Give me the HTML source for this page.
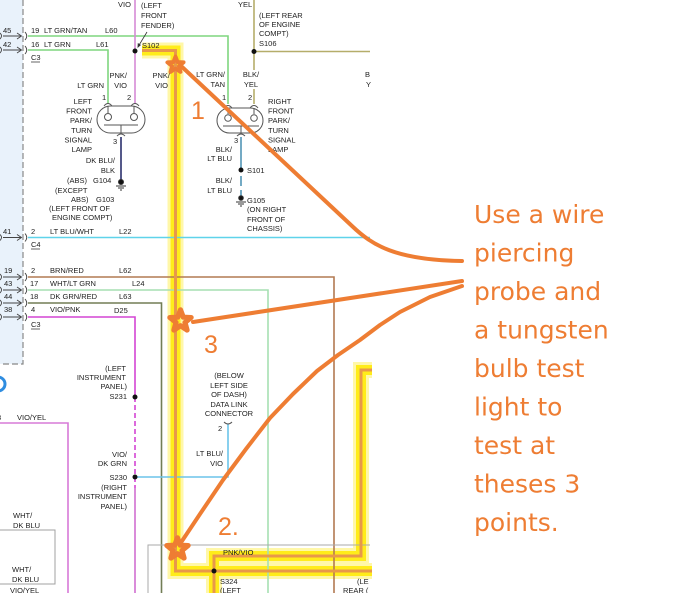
<!DOCTYPE html>
<html><head><meta charset="utf-8">
<style>
html,body{margin:0;padding:0;background:#fff;}
svg{display:block;}
.t{font-family:"Liberation Sans",Arial,sans-serif;font-size:7.5px;fill:#222;}
.e{text-anchor:end;}
.m{text-anchor:middle;}
.a{font-family:"DejaVu Sans",sans-serif;font-size:25px;fill:#ee7d33;}
.n{font-family:"Liberation Sans",sans-serif;font-size:25px;fill:#ee7d33;}
</style></head><body>
<svg width="692" height="593" viewBox="0 0 692 593" xmlns="http://www.w3.org/2000/svg">
<rect width="692" height="593" fill="#fff"/>
<!-- left panel -->
<rect x="0" y="0" width="23" height="364" fill="#e9f2fb"/>
<path d="M23,0 V364 H0" fill="none" stroke="#888" stroke-width="1.2" stroke-dasharray="6,3"/>
<circle cx="-2" cy="384" r="7" fill="none" stroke="#2f8de0" stroke-width="3"/>

<!-- highlight glow -->
<g fill="none" stroke-linejoin="miter">
<path d="M142,50.5 H175.5 V571 H372" stroke="#fff7a8" stroke-width="16"/>
<path d="M214,593 V556 H361 V370 H372" stroke="#fff7a8" stroke-width="16"/>
<path d="M142,50.5 H175.5 V571 H372" stroke="#ffec1a" stroke-width="10"/>
<path d="M214,593 V556 H361 V370 H372" stroke="#ffec1a" stroke-width="10"/>
</g>

<!-- wires -->
<g fill="none" stroke-width="1.6">
<path d="M28,36 H228 V104" stroke="#7fd67f"/>
<path d="M28,50 H108 V104" stroke="#7fd67f"/>
<path d="M135,0 V104" stroke="#d58ad5"/>
<path d="M254,0 V70 M254,89 V104" stroke="#b5ad6a"/>
<path d="M254,51.5 H370" stroke="#b5ad6a"/>
<path d="M121,137 V180" stroke="#55598a" stroke-width="2"/>
<path d="M241,137 V170 M241,176 V186 M241,190 V197" stroke="#74aac4" stroke-width="2"/>
<path d="M28,237.5 H370" stroke="#5fd3ea"/>
<path d="M28,277 H334 V593" stroke="#b27a52"/>
<path d="M28,290 H268 V593" stroke="#a6dfb2"/>
<path d="M28,303 H161.5 V593" stroke="#727d55"/>
<path d="M28,317 H135 V397" stroke="#d445d4"/>
<path d="M135,397 V488" stroke="#d445d4" stroke-dasharray="5,3"/>
<path d="M135,488 V593" stroke="#d070d0"/>
<path d="M228,424 V477 H135" stroke="#6cc4ea"/>
<path d="M0,423 H68 V593" stroke="#d77ad7"/>
<path d="M0,530 H55 V584 H0" stroke="#a0a0a0" stroke-width="1"/>
<path d="M148,593 V545 H370" stroke="#aaa" stroke-width="1"/>
</g>

<!-- highlight core -->
<g fill="none" stroke="#e8984a" stroke-width="3">
<path d="M142,50.5 H175.5 V571 H372"/>
<path d="M214,593 V556 H361 V370 H372"/>
</g>

<!-- connector arrows -->
<g fill="none" stroke="#444" stroke-width="0.9">
<path d="M0,33 Q3,36 0,39 M3,36 H21 M17,33 L21.5,36 L17,39 M25,32 Q28.5,36 25,40"/>
<path d="M0,47 Q3,50 0,53 M3,50 H21 M17,47 L21.5,50 L17,53 M25,46 Q28.5,50 25,54"/>
<path d="M0,234.5 Q3,237.5 0,240.5 M3,237.5 H21 M17,234.5 L21.5,237.5 L17,240.5 M25,233.5 Q28.5,237.5 25,241.5"/>
<path d="M0,274 Q3,277 0,280 M3,277 H21 M17,274 L21.5,277 L17,280 M25,273 Q28.5,277 25,281"/>
<path d="M0,287 Q3,290 0,293 M3,290 H21 M17,287 L21.5,290 L17,293 M25,286 Q28.5,290 25,294"/>
<path d="M0,300 Q3,303 0,306 M3,303 H21 M17,300 L21.5,303 L17,306 M25,299 Q28.5,303 25,307"/>
<path d="M0,314 Q3,317 0,320 M3,317 H21 M17,314 L21.5,317 L17,320 M25,313 Q28.5,317 25,321"/>
</g>

<!-- lamps -->
<g fill="none" stroke="#555" stroke-width="1">
<rect x="97" y="106" width="48" height="27" rx="13.5"/>
<path d="M104,106 Q108,101 112,106 M131,106 Q135,101 139,106"/>
<path d="M108,106 V113 M134,106 V113"/>
<circle cx="108" cy="117" r="3.5"/><circle cx="134" cy="117" r="3.5"/>
<path d="M104,125 H138 M121,125 V133 M117,136 Q121,132 125,136"/>
<rect x="217" y="108" width="46" height="25" rx="12.5"/>
<path d="M224,108 Q228,103 232,108 M250,108 Q254,103 258,108"/>
<path d="M228,108 V114 M254,108 V114"/>
<circle cx="228" cy="118" r="3.3"/><circle cx="254" cy="118" r="3.3"/>
<path d="M223,126 H259 M241,126 V133 M237,136 Q241,132 245,136"/>
<path d="M224,422 Q228,426 232,422"/>
</g>
<!-- grounds -->
<g stroke="#333" stroke-width="1">
<circle cx="121" cy="182" r="2.5" fill="#111"/>
<path d="M116,186 H126 M118,188 H124 M120,190 H122"/>
<circle cx="241" cy="198" r="2.3" fill="#111"/>
<path d="M236,202 H246 M238,204 H244 M240,206 H242"/>
</g>
<!-- splices -->
<g fill="#111">
<circle cx="135" cy="51" r="2.5"/>
<circle cx="254" cy="51.5" r="2.5"/>
<circle cx="241" cy="170" r="2.5"/>
<circle cx="135" cy="397" r="2.5"/>
<circle cx="135" cy="477" r="2.5"/>
<circle cx="214" cy="571" r="2.5"/>
</g>
<path d="M147,32 L138.5,46" stroke="#333" stroke-width="0.8" fill="none"/>
<path d="M137.5,48 L137.8,43 L141,45 Z" fill="#333"/>

<!-- labels -->
<g class="t">
<text x="118" y="7">VIO</text>
<text x="141" y="8">(LEFT</text><text x="141" y="18">FRONT</text><text x="141" y="28">FENDER)</text>
<text x="142" y="48">S102</text>
<text x="3" y="33">45</text><text x="31" y="33">19</text><text x="44" y="33">LT GRN/TAN</text><text x="105" y="33">L60</text>
<text x="3" y="47">42</text><text x="31" y="47">16</text><text x="44" y="47">LT GRN</text><text x="96" y="47">L61</text>
<text x="31" y="60">C3</text>
<text class="e" x="104" y="88">LT GRN</text>
<text class="e" x="127" y="78">PNK/</text><text class="e" x="127" y="88">VIO</text>
<text class="e" x="170" y="78">PNK/</text><text class="e" x="168" y="88">VIO</text>
<text x="102" y="100">1</text><text x="127" y="100">2</text>
<text class="e" x="92" y="104">LEFT</text><text class="e" x="92" y="113.5">FRONT</text><text class="e" x="92" y="123">PARK/</text><text class="e" x="92" y="133">TURN</text><text class="e" x="92" y="142.5">SIGNAL</text><text class="e" x="92" y="152">LAMP</text>
<text x="113" y="144">3</text>
<text class="e" x="115" y="163">DK BLU/</text><text class="e" x="115" y="173">BLK</text>
<text x="67" y="183">(ABS)</text><text x="93" y="183">G104</text>
<text x="55" y="193">(EXCEPT</text>
<text x="71" y="202">ABS)</text><text x="96" y="202">G103</text>
<text x="49" y="211">(LEFT FRONT OF</text>
<text x="52" y="220">ENGINE COMPT)</text>

<text x="238" y="7">YEL</text>
<text x="259" y="18">(LEFT REAR</text><text x="259" y="27">OF ENGINE</text><text x="259" y="36">COMPT)</text><text x="259" y="46">S106</text>
<text class="e" x="225" y="77">LT GRN/</text><text class="e" x="225" y="87">TAN</text>
<text class="m" x="251" y="77">BLK/</text><text class="m" x="251" y="87">YEL</text>
<text x="222" y="100">1</text><text x="248" y="100">2</text>
<text x="268" y="104">RIGHT</text><text x="268" y="113.5">FRONT</text><text x="268" y="123">PARK/</text><text x="268" y="133">TURN</text><text x="268" y="142.5">SIGNAL</text><text x="268" y="152">LAMP</text>
<text x="234" y="143">3</text>
<text class="e" x="232" y="152">BLK/</text><text class="e" x="232" y="161">LT BLU</text>
<text x="247" y="173">S101</text>
<text class="e" x="232" y="183">BLK/</text><text class="e" x="232" y="193">LT BLU</text>
<text x="247" y="203">G105</text>
<text x="247" y="212">(ON RIGHT</text><text x="247" y="222">FRONT OF</text><text x="247" y="231">CHASSIS)</text>
<text x="365" y="77">B</text><text x="366" y="87">Y</text>

<text x="3" y="234">41</text><text x="31" y="234">2</text><text x="50" y="234">LT BLU/WHT</text><text x="119" y="234">L22</text>
<text x="31" y="247">C4</text>
<text x="4" y="273">19</text><text x="31" y="273">2</text><text x="50" y="273">BRN/RED</text><text x="119" y="273">L62</text>
<text x="4" y="286">43</text><text x="30" y="286">17</text><text x="50" y="286">WHT/LT GRN</text><text x="132" y="286">L24</text>
<text x="4" y="299">44</text><text x="30" y="299">18</text><text x="50" y="299">DK GRN/RED</text><text x="119" y="299">L63</text>
<text x="4" y="312">38</text><text x="31" y="312">4</text><text x="50" y="312">VIO/PNK</text><text x="114" y="313">D25</text>
<text x="31" y="327">C3</text>

<text class="e" x="126" y="371">(LEFT</text><text class="e" x="126" y="380">INSTRUMENT</text><text class="e" x="127" y="389">PANEL)</text><text class="e" x="127" y="399">S231</text>
<text class="m" x="229" y="378">(BELOW</text><text class="m" x="229" y="388">LEFT SIDE</text><text class="m" x="229" y="397">OF DASH)</text><text class="m" x="229" y="407">DATA LINK</text><text class="m" x="229" y="416">CONNECTOR</text>
<text x="218" y="431">2</text>
<text class="e" x="223" y="456">LT BLU/</text><text class="e" x="223" y="466">VIO</text>
<text class="e" x="127" y="457">VIO/</text><text class="e" x="127" y="466">DK GRN</text>
<text class="e" x="127" y="480">S230</text>
<text class="e" x="127" y="490">(RIGHT</text><text class="e" x="127" y="499">INSTRUMENT</text><text class="e" x="127" y="509">PANEL)</text>

<text x="-3" y="420">3</text><text x="17" y="420">VIO/YEL</text>
<text x="13" y="518">WHT/</text><text x="13" y="528">DK BLU</text>
<text x="12" y="572">WHT/</text><text x="12" y="582">DK BLU</text>
<text x="10" y="593">VIO/YEL</text>

<text x="223" y="555">PNK/VIO</text>
<text x="220" y="584">S324</text><text x="220" y="593">(LEFT</text>
<text x="357" y="584">(LE</text><text x="343" y="593">REAR (</text>
</g>
<g stroke="#333" stroke-width="0.7">
<path d="M31,62 H40 M31,249 H40 M31,329 H40"/>
</g>

<!-- annotation lines -->
<g fill="none" stroke="#ee7d33" stroke-width="4" stroke-linecap="round" stroke-linejoin="round">
<path d="M180,65 L352,226 C372,245 395,260 462,261"/>
<path d="M193,322 L462,281"/>
<path d="M462,286 L430,297 L400,312 L380,325 L360,340 L338,355 L317,371 L293,394 L270,418 L246,449 L223,480 L200,514 L182,541"/>
</g>
<!-- stars -->
<g fill="none" stroke="#ee7d33" stroke-width="4.6" stroke-linejoin="round">
<path transform="translate(175.5,65) scale(0.85)" d="M0,-10 L2.47,-3.4 L9.51,-3.09 L4,1.3 L5.88,8.09 L0,4.2 L-5.88,8.09 L-4,1.3 L-9.51,-3.09 L-2.47,-3.4 Z"/>
<path transform="translate(180.5,321) scale(1.12)" d="M0,-10 L2.47,-3.4 L9.51,-3.09 L4,1.3 L5.88,8.09 L0,4.2 L-5.88,8.09 L-4,1.3 L-9.51,-3.09 L-2.47,-3.4 Z"/>
<path transform="translate(177.5,549) scale(1.12)" d="M0,-10 L2.47,-3.4 L9.51,-3.09 L4,1.3 L5.88,8.09 L0,4.2 L-5.88,8.09 L-4,1.3 L-9.51,-3.09 L-2.47,-3.4 Z"/>
</g>
<text class="n" x="191" y="119">1</text>
<text class="n" x="204" y="353">3</text>
<text class="n" x="218" y="535">2.</text>

<g class="a">
<text x="474" y="223">Use a wire</text>
<text x="474" y="261.5">piercing</text>
<text x="474" y="300">probe and</text>
<text x="474" y="338.5">a tungsten</text>
<text x="474" y="377">bulb test</text>
<text x="474" y="415.5">light to</text>
<text x="474" y="454">test at</text>
<text x="474" y="492.5">theses 3</text>
<text x="474" y="531">points.</text>
</g>
</svg>
</body></html>
